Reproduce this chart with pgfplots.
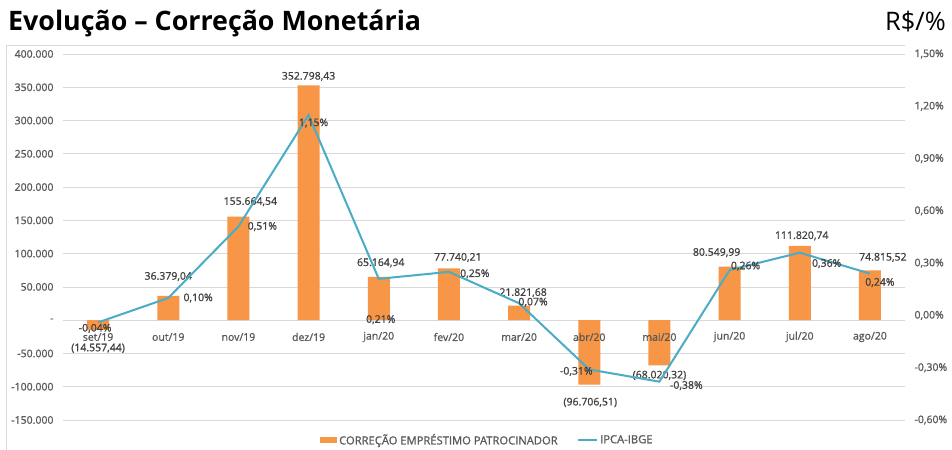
\documentclass[border=0pt]{standalone}
\usepackage{pgfplots}
\pgfplotsset{compat=1.18}
\usepackage{pgfplotstable}
\usepackage{fontspec}
\setmainfont{Open Sans}
\newfontfamily\lblfont{Open Sans}[FakeBold=1.0]
\definecolor{barorange}{HTML}{F79646}
\definecolor{lineblue}{HTML}{4BACC6}
\definecolor{gridgray}{HTML}{D9D9D9}
\definecolor{ticktext}{HTML}{595959}
\definecolor{labeltext}{HTML}{404040}

\pgfplotstableread{
x val lab dx dy
0 -14557.44 (14.557,44) 0 -18.5
1 36379.04 36.379,04 0 19.5
2 155664.54 155.664,54 12 15
3 352798.43 352.798,43 0 9
4 65164.94 65.164,94 2 14
5 77740.21 77.740,21 9 11
6 21821.68 21.821,68 4 13
7 -96706.51 (96.706,51) 1 -18
8 -68020.32 (68.020,32) 0 -10
9 80549.99 80.549,99 -13 14
10 111820.74 111.820,74 2 10
11 74815.52 74.815,52 13 13
}\bardata

\pgfplotstableread{
x val lab dx dy
0 -0.04 -0,04 -3 -6
1 0.10 0,10 30 0
2 0.51 0,51 24 0
3 1.15 1,15 5 -8
4 0.21 0,21 2 -41
5 0.25 0,25 26 -2
6 0.07 0,07 14 1
7 -0.31 -0,31 -13 -2
8 -0.38 -0,38 27 -4
9 0.26 0,26 16 4
10 0.36 0,36 27 -11
11 0.24 0,24 10 -9
}\linedata

\begin{document}
\begin{tikzpicture}
\useasboundingbox (0,0) rectangle (952bp,450bp);
\fill[white] (0,0) rectangle (952bp,450bp);
\draw[gridgray, line width=0.75bp] (6bp,0bp) -- (6bp,405bp) -- (905bp,405bp);
\node[anchor=base west, inner sep=0pt, font=\fontsize{26.8bp}{30bp}\selectfont\bfseries, text=black] at (8bp,419bp) {Evolução – Correção Monetária};
\node[anchor=base east, inner sep=0pt, font=\fontsize{25.5bp}{30bp}\selectfont, text=black] at (946bp,419bp) {R\$/\%};

\begin{axis}[
  at={(63bp,30bp)}, anchor=south west,
  width=842bp, height=366bp, scale only axis,
  xmin=-0.5, xmax=11.5, ymin=-150000, ymax=400000,
  ybar, bar width=22bp,
  axis line style={draw=none}, major tick length=0pt,
  xtick=\empty,
  ytick={-150000,-100000,-50000,0,50000,100000,150000,200000,250000,300000,350000,400000},
  yticklabels={-150.000,-100.000,-50.000,-,50.000,100.000,150.000,200.000,250.000,300.000,350.000,400.000},
  yticklabel style={font=\lblfont\fontsize{10.5bp}{12bp}\selectfont, text=ticktext, xshift=-6bp},
  scaled y ticks=false,
  ymajorgrids, grid style={gridgray, line width=0.75bp},
  legend columns=2,
  legend style={at={(0.504,-0.0546)}, anchor=center, draw=none, fill=none,
    font=\lblfont\fontsize{11.2bp}{12bp}\selectfont, text=ticktext,
    /tikz/every even column/.append style={column sep=18bp},
    /tikz/every odd column/.append style={column sep=0bp},
    cells={inner xsep=1.5bp}},
]
\addplot[fill=barorange, draw=none,
  point meta=explicit symbolic,
  nodes near coords,
  visualization depends on={\thisrow{dx} \as \labdx},
  visualization depends on={\thisrow{dy} \as \labdy},
  every node near coord/.append style={anchor=center, xshift=\labdx, yshift=\labdy,
    font=\lblfont\fontsize{10.5bp}{12bp}\selectfont, text=labeltext, inner sep=0pt},
  legend image code/.code={\fill[barorange] (0bp,-3bp) rectangle (17bp,3bp);}
] table[x=x, y=val, meta=lab] {\bardata};
\addlegendentry{CORREÇÃO EMPRÉSTIMO PATROCINADOR}
\addlegendimage{legend image code/.code={\draw[lineblue, line width=1.5bp] (0bp,0bp) -- (19bp,0bp);}}
\addlegendentry{IPCA-IBGE}
\end{axis}

\begin{axis}[
  at={(63bp,30bp)}, anchor=south west,
  width=842bp, height=366bp, scale only axis,
  xmin=-0.5, xmax=11.5, ymin=-0.6, ymax=1.5,
  axis x line*=bottom, axis y line*=right,
  axis line style={draw=none}, major tick length=0pt,
  xtick={0,1,2,3,4,5,6,7,8,9,10,11},
  xticklabels={set/19,out/19,nov/19,dez/19,jan/20,fev/20,mar/20,abr/20,mai/20,jun/20,jul/20,ago/20},
  xticklabel style={anchor=center, yshift=83bp, font=\lblfont\fontsize{10.5bp}{12bp}\selectfont, text=ticktext},
  ytick={-0.6,-0.3,0,0.3,0.6,0.9,1.2,1.5},
  yticklabels={{-0,60\%},{-0,30\%},{0,00\%},{0,30\%},{0,60\%},{0,90\%},{1,20\%},{1,50\%}},
  yticklabel style={font=\lblfont\fontsize{10.5bp}{12bp}\selectfont, text=ticktext, xshift=6bp},
]
\addplot[lineblue, line width=2bp, mark=none,
  point meta=explicit symbolic,
  nodes near coords={\pgfplotspointmeta\%},
  visualization depends on={\thisrow{dx} \as \labdx},
  visualization depends on={\thisrow{dy} \as \labdy},
  every node near coord/.append style={anchor=center, xshift=\labdx, yshift=\labdy,
    font=\lblfont\fontsize{10.5bp}{12bp}\selectfont, text=labeltext, inner sep=0pt},
] table[x=x, y=val, meta=lab] {\linedata};
\end{axis}
\end{tikzpicture}
\end{document}
